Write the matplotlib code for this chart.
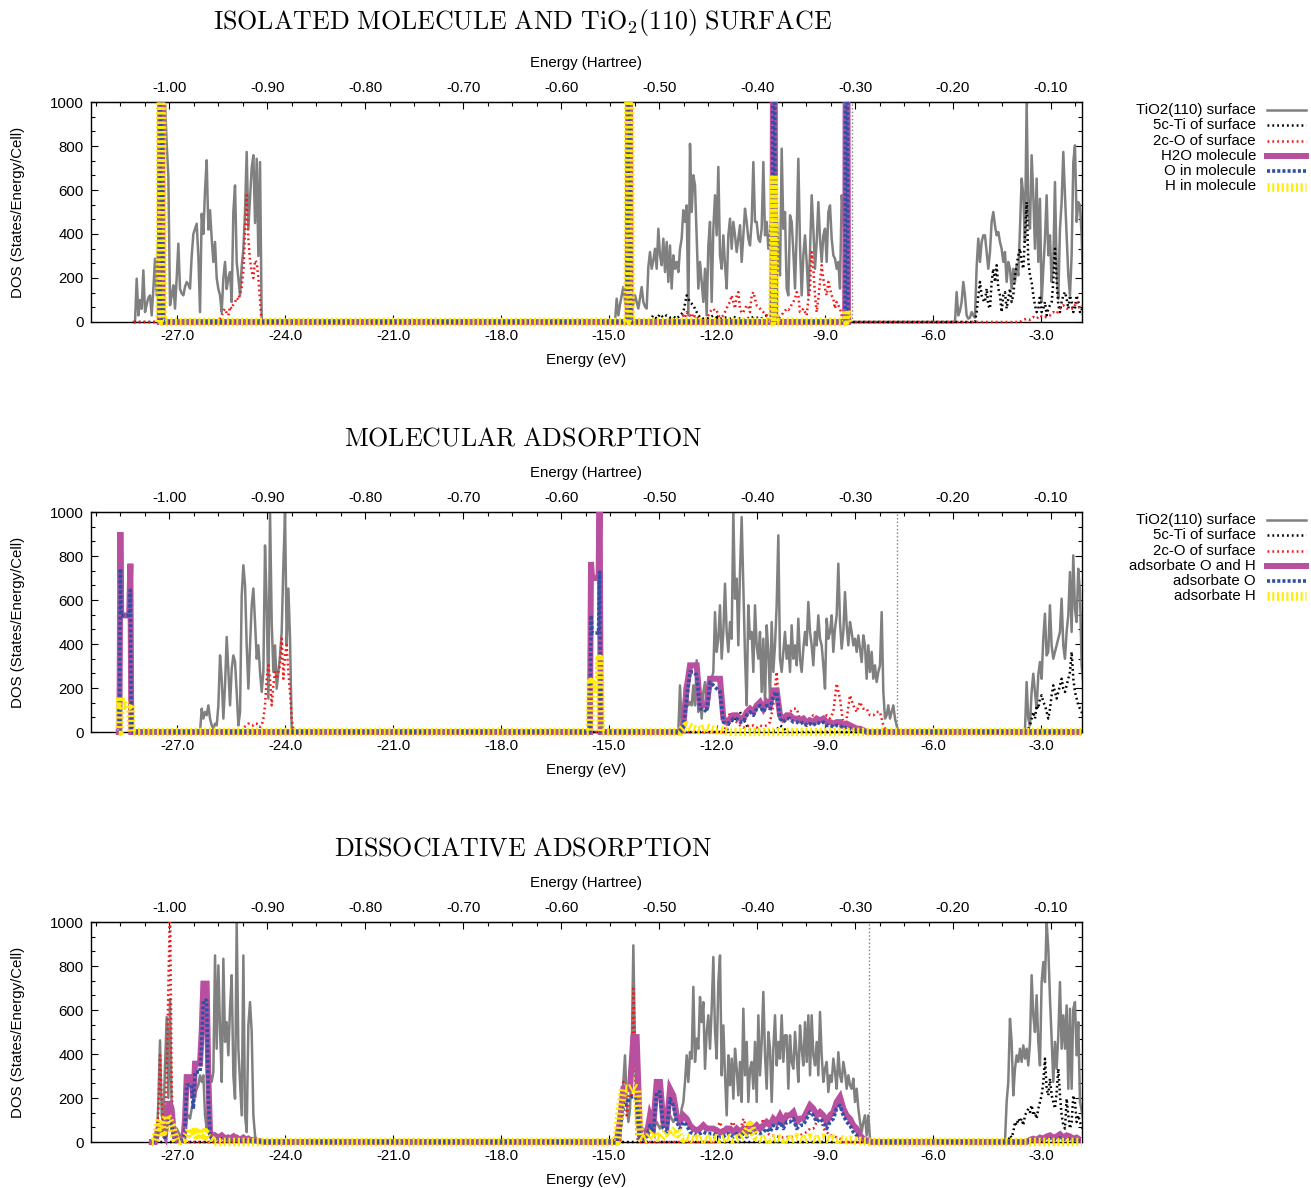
import numpy as np
import matplotlib
matplotlib.use("Agg")
import matplotlib.pyplot as plt
from matplotlib.lines import Line2D
from matplotlib.patches import Rectangle
from matplotlib.ticker import MultipleLocator, FormatStrFormatter

plt.rcParams['font.family'] = ['Liberation Sans', 'DejaVu Sans']
plt.rcParams['mathtext.fontset'] = 'cm'
plt.rcParams['axes.unicode_minus'] = False
plt.rcParams['lines.scale_dashes'] = False

HARTREE = 27.2114
XLIM = (-29.39, -1.86)
S5 = 0.0463
S10 = 0.0926

# ---------------- Panel 1: isolated molecule and TiO2(110) surface ----------------
p1_gray_A = [0,197,30,100,60,235,45,80,110,121,30,150,288,121,400,600,900,1100,1000,810,660,76,120,167,61,200,356,150,130,121,160,182,170,152,300,400,424,447,300,45,492,400,600,735,420,508,380,273,364,200,150,121,45,200,273,150,200,227,91,500,621,273,200,121,250,333,500,773,424,560,700,758,450,742,300,727,0]
p1_gray_B = [0,106,30,80,120,159,100,61,150,120,100,80,121,90,61,110,159,91,70,61,250,318,242,280,333,242,424,303,258,379,227,364,182,348,152,303,242,273,227,333,379,508,455,530,30,810,500,667,621,394,152,273,182,91,242,30,348,455,91,424,576,394,705,303,242,394,258,152,394,470,333,455,394,318,379,440,273,394,515,455,379,348,455,727,455,455,379,364,424,727,394,455,333,400,500,600,550,500,300,212,788,424,500,152,121,485,455,318,152,409,742,348,121,303,394,273,121,318,576,424,242,364,545,379,273,394,424,273,500,530,379,303,288,242,273,152,576,500,300,200,121,8,0]
p1_gray_C = [0,136,30,50,91,182,121,30,15,20,45,30,20,250,379,273,364,394,394,318,242,318,455,500,439,394,409,364,333,273,318,182,273,242,152,242,182,258,212,424,652,576,364,1000,500,424,758,576,333,652,273,560,91,242,379,576,303,394,182,273,636,242,106,424,545,773,576,394,212,121,303,727,803,455,545,530,394,136]
p1_black_B = [0,10,30,15,35,20,30,20,25,15,30,45,121,91,76,45,20,15,15,20,30,20,15,20,20,15,23,20,15,10,20,15,23,20,15,20,30,0]
p1_black_C = [0,45,120,182,121,100,91,152,76,61,182,242,182,258,152,121,45,121,136,61,106,152,91,121,212,258,303,333,273,242,394,545,273,212,182,121,76,45,61,121,45,61,91,30,61,76,91,182,333,182,76,45,91,121,136,106,61,121,91,45,61,121,91,45,61,30]
p1_red_A = [0,15,30,50,60,40,30,70,60,80,90,110,100,130,160,230,400,576,380,280,230,200,280,270,200,100,0]
p1_red_B = [0,15,30,20,45,30,30,20,38,25,30,15,10,10,15,10,20,30,45,55,61,50,53,30,20,25,30,45,61,80,91,121,91,61,121,136,61,40,45,60,76,70,45,121,136,106,76,70,61,50,45,35,30,20,15,15,15,15,15,15,23,30,45,50,61,55,61,80,91,106,136,121,45,50,61,45,30,100,152,318,242,121,45,106,182,258,197,152,121,182,152,121,106,61,91,76,61,30,0]
p1_red_C = [0,10,15,10,23,15,30,20,23,30,45,38,61,76,61,61,61,91,61,76]
p1_mol_E = [-27.48, -27.44, -27.40, -14.48, -14.44, -14.40, -10.46, -10.42, -10.38, -8.44, -8.40, -8.36]
p1_h2o = [0, 3000, 0, 0, 3000, 0, 0, 3000, 0, 0, 3000, 0]
p1_o = [0, 2000, 0, 0, 2000, 0, 0, 3000, 0, 0, 3000, 0]
p1_h = [0, 2500, 0, 0, 2500, 0, 0, 667, 0, 0, 53, 0]
p1_fermi = -8.24

# ---------------- Panel 2: molecular adsorption ----------------
p2_gray_A = [0,106,61,91,76,121,61,30,15,38,30,121,348,242,61,212,432,273,121,288,348,318,182,30,91,621,758,667,394,197,394,576,652,500,333,394,273,182,273,848,576,152,1000,500,273,394,197,273,348,455,758,1000,394,652,424,15,0]
p2_gray_B = [0,212,30,91,212,167,121,136,121,212,121,326,91,182,61,182,227,136,121,182,242,273,545,364,424,576,333,455,674,455,364,500,424,1000,606,697,394,727,977,652,348,121,576,424,455,273,576,394,333,455,182,424,121,485,364,152,500,273,394,576,894,333,273,364,455,333,394,273,485,333,394,303,515,333,273,379,455,394,591,455,394,303,455,394,530,424,394,303,197,515,424,455,530,364,470,530,765,500,379,455,636,485,394,500,455,394,424,364,439,379,318,439,394,242,394,273,364,242,303,227,273,303,545,182,61,76,121,61,91,121,61,30,0]
p2_gray_C = [0,227,61,30,182,265,182,106,258,318,242,424,538,348,364,576,394,333,364,394,424,455,606,394,333,455,530,727,455,803,560,500,742,636,303]
p2_black_B = [0,61,45,76,91,60,30,10,5,5,5,5,5,5,5,10,30,20,0]
p2_black_C = [0,15,30,61,91,61,121,106,152,167,136,121,91,61,106,167,212,182,152,182,212,242,197,182,212,242,273,364,242,182,152,121,106,91]
p2_red_A = [0,18,25,30,38,38,30,30,38,38,25,23,30,61,121,242,303,242,121,212,273,242,273,303,424,242,348,394,273,182,61,8,0]
p2_red_B = [0,30,91,61,45,30,20,30,25,30,20,30,25,30,45,121,273,61,45,61,91,106,106,61,45,61,61,76,61,45,61,76,61,91,220,152,30,61,167,121,91,136,106,106,76,76,91,91,30,0]
p2_peak_E = [-28.60, -28.574, -28.55, -28.33, -28.296, -28.27, -15.53, -15.50, -15.47, -15.29, -15.26, -15.23]
p2_peak_OH = [0, 909, 530, 530, 765, 0, 0, 773, 700, 700, 1100, 0]
p2_peak_O = [0, 742, 530, 530, 644, 0, 0, 530, 450, 450, 727, 0]
p2_peak_H = [0, 159, 120, 120, 129, 0, 0, 227, 200, 200, 333, 0]
p2_OH_B = [0,30,200,303,303,303,121,121,121,242,242,242,242,61,45,61,76,76,61,61,91,106,91,121,136,106,136,121,189,189,76,61,76,76,61,61,53,61,45,53,45,61,53,61,45,45,38,45,45,30,38,30,23,15,15,8,0]
p2_O_B = [0,20,150,273,273,258,106,106,91,227,212,197,182,45,38,45,61,61,45,45,76,91,76,106,121,91,121,106,167,182,61,45,61,61,45,45,38,45,30,38,30,45,38,45,30,30,23,30,30,15,23,15,10,8,5,3,0]
p2_H_B = [0,15,30,23,15,10,8,15,20,15,10,8,10,5,3,0]
p2_fermi = -7.01

# ---------------- Panel 3: dissociative adsorption ----------------
p3_gray_A = [0,182,462,121,91,348,568,200,650,121,91,61,61,45,30,20,15,61,106,121,106,152,182,212,242,260,303,273,303,121,61,200,303,273,318,848,424,803,515,273,833,455,545,394,606,758,303,197,1000,424,273,121,848,121,45,530,636,500,121,30,0]
p3_gray_B = [0,121,273,394,182,91,150,400,894,424,91,45,30,45,61,45,30,38,45,50,61,76,91,76,61,76,91,76,61,91,121,106,91,106,121,106,91,152,182,273,394,273,409,379,705,364,470,424,659,545,636,333,500,576,424,606,841,500,379,727,848,303,530,303,121,394,258,379,197,424,333,212,364,182,606,303,455,182,333,364,242,455,182,576,303,455,682,394,242,500,424,182,424,576,348,455,379,576,364,485,485,242,485,364,333,500,394,273,530,424,348,545,364,576,303,576,394,348,455,303,591,394,273,333,364,227,303,273,379,318,242,408,303,273,364,318,242,303,258,242,288,182,242,152,91,45,91,121,30,121,15,0]
p3_gray_C = [0,182,273,560,455,212,333,394,364,424,364,439,379,424,348,455,758,576,500,667,455,348,727,818,727,1000,879,652,470,273,455,333,485,727,424,576,424,621,242,606,242,606,636,394,545,182]
p3_black_C = [0,30,20,45,91,76,106,91,106,76,121,136,151,136,167,121,136,106,152,182,212,273,379,242,212,288,212,182,152,227,333,212,121,76,61,197,121,61,91,212,182,91,121,91]
p3_red_A = [0,150,394,200,45,60,300,700,1100,250,45,15,0]
p3_red_B1 = [0,121,273,242,121,182,333,212,697,400,30,0]
p3_red_B2 = [0,61,91,45,61,76,91,30,45,106,61,91,61,45,61,106,45,30,30,25,23,20,23,20,25,30,30,38,45,61,61,91,121,61,45,30,30,20,15,0]
p3_OH_A = [0,30,61,76,76,45,30,120,174,174,150,61,20,10,10,15,10,10,100,295,295,295,295,200,356,356,356,356,500,720,720,720,300,45,30,23,30,25,20,25,30,23,20,15,20,15,20,25,15,20,15,10,15,20,15,10,15,10,8,10,8,5,5,3,2,0]
p3_O_A = [0,15,30,45,45,30,20,61,91,91,76,30,10,5,5,8,5,5,60,258,258,258,258,150,318,318,318,318,450,644,644,644,200,30,15,10,15,12,10,12,15,10,10,8,10,8,10,12,8,10,8,5,8,10,8,5,8,5,4,5,4,3,2,2,1,0]
p3_H_A = [0,40,80,100,61,45,76,121,106,91,76,45,15,5,5,5,8,10,20,30,45,61,45,30,45,30,45,61,45,30,45,30,20,15,10,0]
p3_OH_B = [0,100,242,242,242,477,477,30,23,30,121,76,273,273,91,76,242,212,121,91,121,106,76,61,53,61,76,61,61,61,53,45,45,61,61,45,61,45,61,45,61,61,76,61,76,91,76,106,91,121,91,121,121,136,91,106,106,136,167,152,121,136,121,91,121,136,182,205,152,121,106,76,61,30,15,8,0]
p3_O_B = [0,61,152,182,197,212,197,15,10,15,76,45,227,227,61,45,197,167,91,61,91,76,45,38,30,38,45,38,38,38,30,23,23,38,38,23,38,23,38,23,38,38,45,38,45,61,45,76,61,91,61,91,91,106,61,76,76,106,136,121,91,106,91,61,91,106,152,167,121,91,76,45,30,15,8,3,0]
p3_H_B = [0,150,242,242,242,250,242,20,10,15,30,45,20,15,30,45,30,45,61,30,15,20,15,10,15,10,15,10,15,20,15,10,15,20,15,10,15,20,30,45,76,45,20,15,10,15,10,15,20,15,10,15,10,15,20,15,10,15,20,15,10,15,20,15,10,15,10,15,10,8,10,8,5,5,3,2,0]
p3_OH_C = [0,10,15,10,20,15,25,30,20,25,35,20,30,25,15,20,10]
p3_O_C = [0,5,8,5,10,8,12,15,10,12,18,10,15,12,8,10,5]
p3_fermi = -7.77


def grid(e0, step, vals):
    v = np.asarray(vals, dtype=float)
    return e0 + step * np.arange(len(v)), v


def build(parts, e_min, e_max):
    E = [np.array([e_min])]
    V = [np.array([0.0])]
    for e, v in parts:
        E.append(np.asarray(e, float))
        V.append(np.asarray(v, float))
    E.append(np.array([e_max]))
    V.append(np.array([0.0]))
    return np.concatenate(E), np.concatenate(V)


GRAY = '#808080'
BLACK = '#000000'
RED = '#f21a1a'
MAG = '#b9509f'
BLUE = '#3050a6'
YEL = '#ffec00'

STYLES = {
    'surf': dict(color=GRAY, lw=1.8, ls='-', zorder=2),
    'ti': dict(color=BLACK, lw=1.8, ls=(0, (1.3, 2.2)), zorder=3),
    'o2c': dict(color=RED, lw=1.8, ls=(0, (1.3, 2.2)), zorder=4),
    'oh': dict(color=MAG, lw=4.3, ls='-', zorder=5, solid_joinstyle='miter'),
    'o': dict(color=BLUE, lw=2.6, ls=(0, (2.2, 1.5)), zorder=6),
    'h': dict(color=YEL, lw=6.2, ls=(0, (1.5, 1.9)), zorder=7),
}

W, H = 1311, 1188
fig = plt.figure(figsize=(W / 100, H / 100), dpi=100)


def fx(x):
    return x / W


def fy(y):
    return 1 - y / H


def draw(ax, E, V, key):
    ln, = ax.plot(E, V, **STYLES[key])
    ln.set_clip_path(Rectangle((0, -0.03), 1, 1.03, transform=ax.transAxes))
    return ln


def make_axes(top_px, title, title_y, fermi):
    ax = fig.add_axes([fx(91), fy(top_px + 220), fx(1082) - fx(91), 220 / H])
    ax.set_xlim(*XLIM)
    ax.set_ylim(0, 1000)
    ax.set_xticks([-27, -24, -21, -18, -15, -12, -9, -6, -3])
    ax.xaxis.set_major_formatter(FormatStrFormatter('%.1f'))
    ax.set_yticks(np.arange(0, 1001, 200))
    ax.yaxis.set_minor_locator(MultipleLocator(200 / 3))
    ax.tick_params(which='both', direction='in', top=False, right=True, labelsize=10.8, width=0.8)
    ax.tick_params(which='major', length=5)
    ax.tick_params(which='minor', length=3)
    ax.tick_params(axis='x', pad=5)
    ax.tick_params(axis='y', pad=5)
    for s in ax.spines.values():
        s.set_linewidth(1.0)
    sec = ax.secondary_xaxis('top', functions=(lambda e: e / HARTREE, lambda h: h * HARTREE))
    sec.set_xticks(np.round(np.arange(-1.0, -0.05, 0.1), 2))
    sec.xaxis.set_major_formatter(FormatStrFormatter('%.2f'))
    sec.xaxis.set_minor_locator(MultipleLocator(0.025))
    sec.tick_params(which='both', direction='in', labelsize=10.8, width=0.8, pad=5)
    sec.tick_params(which='major', length=5)
    sec.tick_params(which='minor', length=3)
    ax.axvline(fermi, color=GRAY, lw=1.0, ls=(0, (1.0, 1.6)), zorder=1)
    fig.text(fx(523), fy(title_y), title, ha='center', va='center', fontsize=18.7)
    fig.text(fx(586), fy(top_px - 39), 'Energy (Hartree)', ha='center', va='center', fontsize=10.8)
    fig.text(fx(586), fy(top_px + 258), 'Energy (eV)', ha='center', va='center', fontsize=10.8)
    fig.text(fx(18), fy(top_px + 110), 'DOS (States/Energy/Cell)', ha='center', va='center',
             rotation=90, fontsize=10.8)
    return ax


def legend(top_px, labels):
    keys = ['surf', 'ti', 'o2c', 'oh', 'o', 'h']
    for i, (lab, key) in enumerate(zip(labels, keys)):
        y = fy(top_px + 8 + i * 15.3)
        fig.text(fx(1256), y, lab, ha='right', va='center', fontsize=10.8)
        st = dict(STYLES[key])
        st.pop('zorder', None)
        fig.add_artist(Line2D([fx(1267), fx(1306)], [y, y], transform=fig.transFigure, **st))


# ---- Panel 1 ----
ax1 = make_axes(102, r'$\mathrm{ISOLATED\ MOLECULE\ AND\ TiO_2(110)\ SURFACE}$', 22, p1_fermi)
draw(ax1, *build([grid(-28.167, S5, p1_gray_A), grid(-14.833, S5, p1_gray_B), grid(-5.389, S5, p1_gray_C)], -28.2, -1.7), 'surf')
draw(ax1, *build([grid(-13.954, S10, p1_black_B), grid(-4.833, S5, p1_black_C)], -28.2, -1.7), 'ti')
draw(ax1, *build([grid(-25.852, S5, p1_red_A), grid(-13.028, S5, p1_red_B), grid(-3.583, S10, p1_red_C)], -28.2, -1.7), 'o2c')
draw(ax1, np.array(p1_mol_E), np.array(p1_h2o, float), 'oh')
draw(ax1, np.array(p1_mol_E), np.array(p1_o, float), 'o')
draw(ax1, np.array(p1_mol_E), np.array(p1_h, float), 'h')
legend(102, ['TiO2(110) surface', '5c-Ti of surface', '2c-O of surface', 'H2O molecule', 'O in molecule', 'H in molecule'])

# ---- Panel 2 ----
ax2 = make_axes(512, r'$\mathrm{MOLECULAR\ ADSORPTION}$', 438, p2_fermi)
draw(ax2, *build([grid(-26.361, S5, p2_gray_A), grid(-13.074, S5, p2_gray_B), grid(-3.445, S5, p2_gray_C)], -26.4, -1.7), 'surf')
draw(ax2, *build([grid(-11.731, S10, p2_black_B), grid(-3.398, S5, p2_black_C)], -26.4, -1.7), 'ti')
draw(ax2, *build([grid(-25.204, S5, p2_red_A), grid(-11.824, S10, p2_red_B)], -26.4, -1.7), 'o2c')
pk = np.array(p2_peak_E)
draw(ax2, *build([(pk, p2_peak_OH), grid(-13.027, S10, p2_OH_B)], -28.62, -1.7), 'oh')
draw(ax2, *build([(pk, p2_peak_O), grid(-13.027, S10, p2_O_B)], -28.62, -1.7), 'o')
draw(ax2, *build([(pk, p2_peak_H), grid(-13.027, S10, p2_H_B)], -28.62, -1.7), 'h')
legend(512, ['TiO2(110) surface', '5c-Ti of surface', '2c-O of surface', 'adsorbate O and H', 'adsorbate O', 'adsorbate H'])

# ---- Panel 3 ----
ax3 = make_axes(922, r'$\mathrm{DISSOCIATIVE\ ADSORPTION}$', 848, p3_fermi)
draw(ax3, *build([grid(-27.565, S5, p3_gray_A), grid(-14.694, S5, p3_gray_B), grid(-4.0, S5, p3_gray_C)], -27.6, -1.7), 'surf')
draw(ax3, *build([grid(-3.907, S5, p3_black_C)], -27.6, -1.7), 'ti')
draw(ax3, *build([grid(-27.565, S5, p3_red_A), grid(-14.694, S5, p3_red_B1), grid(-12.102, S10, p3_red_B2)], -27.6, -1.7), 'o2c')
draw(ax3, *build([grid(-27.612, S5, p3_OH_A), grid(-14.787, S10, p3_OH_B), grid(-3.398, S10, p3_OH_C)], -27.7, -1.7), 'oh')
draw(ax3, *build([grid(-27.612, S5, p3_O_A), grid(-14.787, S10, p3_O_B), grid(-3.398, S10, p3_O_C)], -27.7, -1.7), 'o')
draw(ax3, *build([grid(-27.612, S5, p3_H_A), grid(-14.787, S10, p3_H_B)], -27.7, -1.7), 'h')

fig.savefig('out.png', dpi=100)
